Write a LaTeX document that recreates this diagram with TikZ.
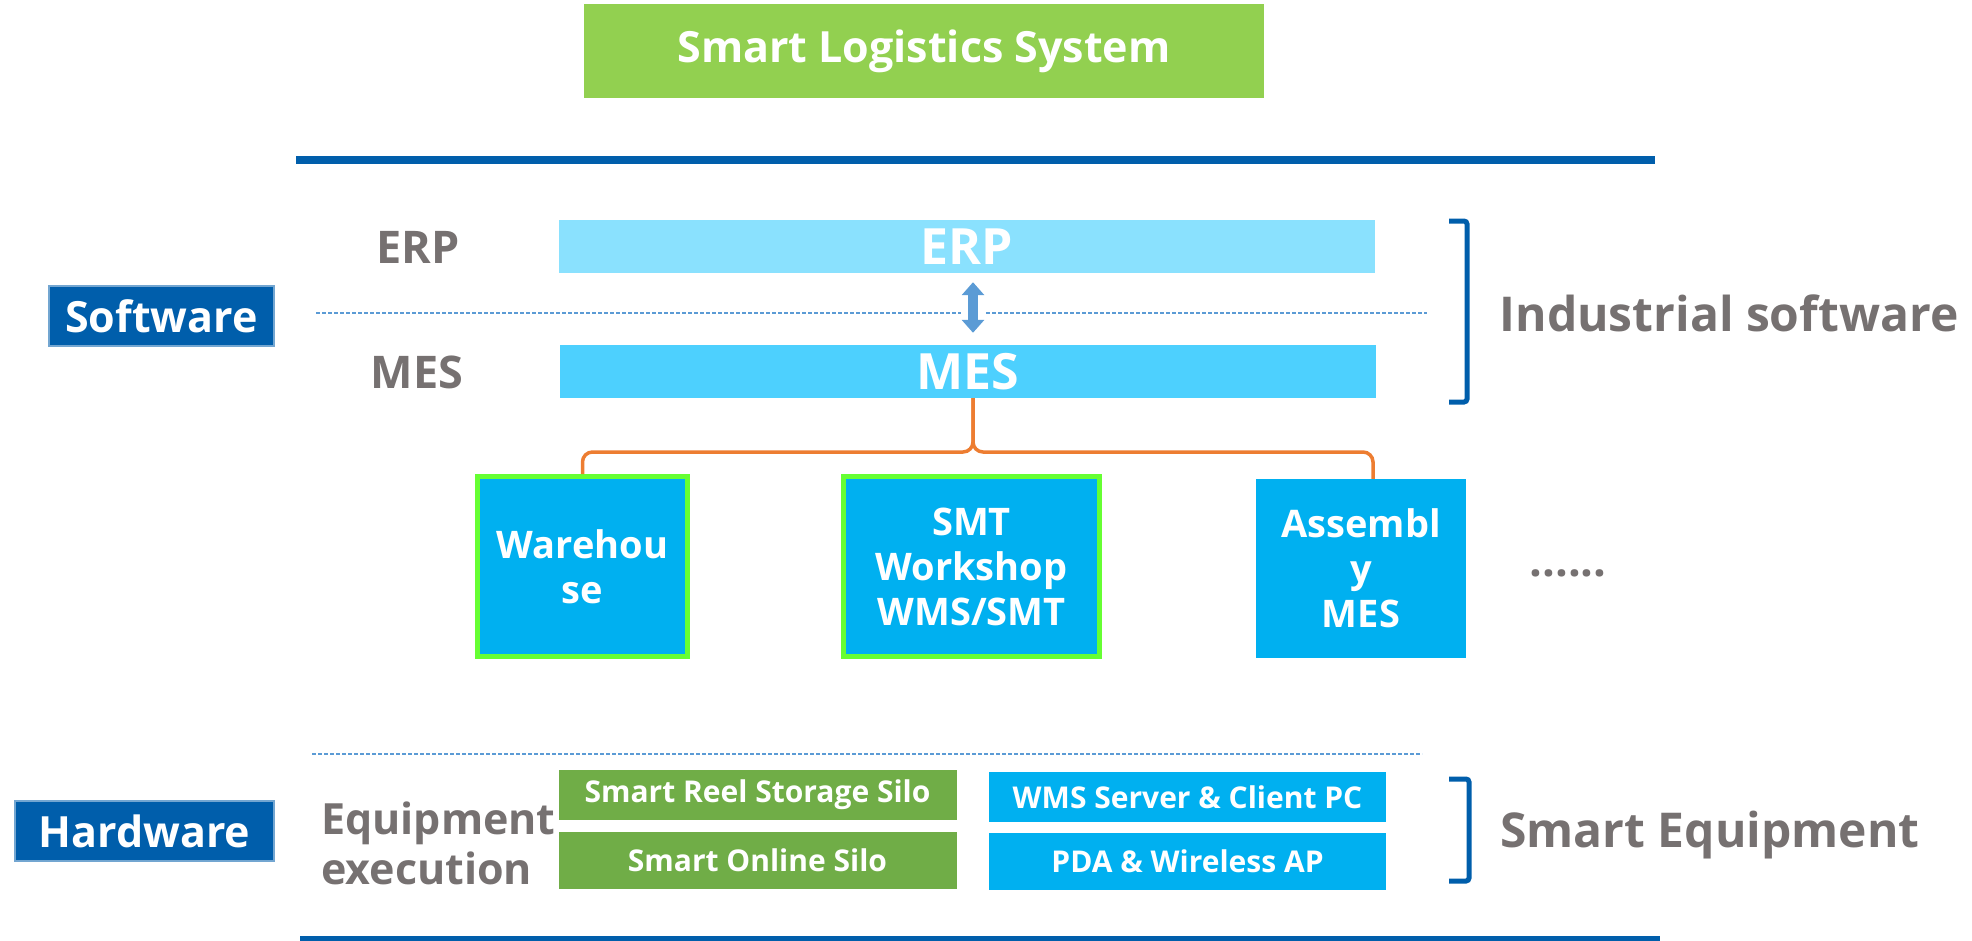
\documentclass[tikz,border=0pt]{standalone}
\usepackage{fontspec}
\setmainfont{Open Sans}
\usepackage{xcolor}
\usetikzlibrary{positioning,arrows.meta}

\definecolor{titlegreen}{HTML}{92D050}
\definecolor{darkblue}{HTML}{005EAB}
\definecolor{erpblue}{HTML}{8AE1FE}
\definecolor{mesblue}{HTML}{4DD0FE}
\definecolor{boxblue}{HTML}{00B0F0}
\definecolor{brightgreen}{HTML}{66FF33}
\definecolor{silogreen}{HTML}{70AD47}
\definecolor{labelgray}{HTML}{767171}
\definecolor{linkorange}{HTML}{ED7D31}
\definecolor{arrowblue}{HTML}{5B9BD5}

\begin{document}
\begin{tikzpicture}[x=1pt, y=-1pt,
  every node/.style={inner sep=0pt, font=\bfseries},
  bar/.style={minimum width=816pt, minimum height=53pt, text=white, font=\fontsize{50}{58}\selectfont\bfseries},
  side/.style={text=labelgray, font=\fontsize{45}{52}\selectfont\bfseries},
  tag/.style={fill=darkblue, draw=darkblue!55!white, line width=2pt, text=white, minimum height=60pt, font=\fontsize{43}{50}\selectfont\bfseries},
  unit/.style={fill=boxblue, text=white, align=center, font=\fontsize{38}{45}\selectfont\bfseries},
  device/.style={minimum width=398pt, text=white, font=\fontsize{30}{36}\selectfont\bfseries},
  bracket/.style={draw=darkblue, line width=5pt, rounded corners=3pt},
  sep/.style={draw=arrowblue, line width=1.5pt, dash pattern=on 4pt off 2pt},
  rule/.style={draw=darkblue, line width=8pt}]
  \useasboundingbox (0,0) rectangle (1972,940);

  \node (title) [fill=titlegreen, minimum width=680pt, minimum height=94pt, text=white,
    font=\fontsize{43}{50}\selectfont\bfseries] at (924,51) {Smart Logistics System};
  \draw[rule] (296,160) -- (1655,160);

  % software layer
  \node (erp) [bar, fill=erpblue] at (967,246.5) {ERP};
  \node (mes) [bar, fill=mesblue] at (968,371.5) {MES};
  \node (erplabel) [side] at (418,247) {ERP};
  \node (meslabel) [side] at (417,372) {MES};
  \node (software) [tag, minimum width=225pt] at (161.5,316) {Software};
  \draw[sep] (316,313) -- (961,313);
  \draw[sep] (986,313) -- (1427,313);
  \draw[arrowblue, line width=10pt, {Triangle[width=22pt,length=13pt]}-{Triangle[width=22pt,length=13pt]},
    shorten <=9pt, shorten >=12pt] ([xshift=6pt]erp.south) -- ([xshift=5pt]mes.north);
  \draw[bracket] (1449,221) -- (1467,221) -- (1467,402) -- (1449,402);
  \node (industrial) [side, font=\fontsize{48}{56}\selectfont\bfseries] at (1729,313) {Industrial software};

  % workshop systems
  \node (warehouse) [unit, draw=brightgreen, line width=5pt, minimum width=210pt, minimum height=180pt]
    at (582.5,566.5) {Warehou\\se};
  \node (smt) [unit, draw=brightgreen, line width=5pt, minimum width=256pt, minimum height=180pt]
    at (971.5,566.5) {SMT\\Workshop\\WMS/SMT};
  \node (assembly) [unit, minimum width=210pt, minimum height=179pt]
    at (1361,568.5) {Assembl\\y\\MES};
  \node (more) [side] at (1568,573) {......};
  \draw[linkorange, line width=3.5pt, rounded corners=10pt]
    ([xshift=5pt]mes.south) -- ([xshift=5pt]mes.south |- 0,452) -- (warehouse.north |- 0,452) -- (warehouse.north);
  \draw[linkorange, line width=3.5pt, rounded corners=10pt]
    ([xshift=5pt]mes.south) -- ([xshift=5pt]mes.south |- 0,452) -- ([xshift=12pt]assembly.north |- 0,452) -- ([xshift=12pt]assembly.north);

  % hardware layer
  \draw[sep] (312,754) -- (1422,754);
  \node (hardware) [tag, minimum width=259pt] at (144.5,831) {Hardware};
  \node (execution) [side, anchor=west, align=left, font=\fontsize{43}{50}\selectfont\bfseries]
    at (321,843) {Equipment\\execution};
  \node (reel) [device, fill=silogreen, minimum height=50pt] at (757.5,795) {Smart Reel Storage Silo};
  \node (online) [device, fill=silogreen, minimum height=57pt] at (757.5,860.5) {Smart Online Silo};
  \node (server) [device, fill=boxblue, minimum width=397pt, minimum height=50pt] at (1187.5,797) {WMS Server \& Client PC};
  \node (pda) [device, fill=boxblue, minimum width=397pt, minimum height=57pt] at (1187.5,861.5) {PDA \& Wireless AP};
  \draw[bracket] (1449,779) -- (1469,779) -- (1469,881) -- (1449,881);
  \node (equipment) [side, font=\fontsize{48}{56}\selectfont\bfseries] at (1710,835) {Smart Equipment};
  \draw[rule] (300,940) -- (1660,940);
\end{tikzpicture}
\end{document}
